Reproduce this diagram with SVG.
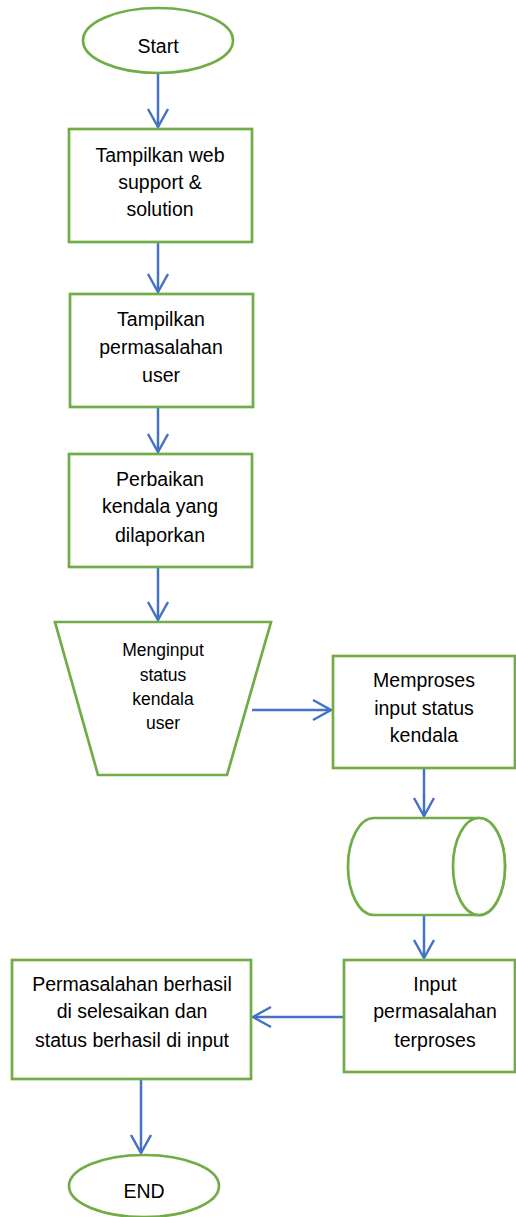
<svg xmlns="http://www.w3.org/2000/svg" width="516" height="1217" viewBox="0 0 516 1217">
<style>
.s{fill:#fff;stroke:#70AD47;stroke-width:2.7}
.t{font-family:"Liberation Sans",Arial,sans-serif;font-size:19.5px;fill:#000;text-anchor:middle}
.ts{font-family:"Liberation Sans",Arial,sans-serif;font-size:17.5px;fill:#000;text-anchor:middle}
.c{fill:none;stroke:#4472C4;stroke-width:2.5;marker-end:url(#ah)}
</style>
<defs>
<marker id="ah" markerUnits="userSpaceOnUse" markerWidth="24" markerHeight="24" viewBox="0 0 24 24" refX="21" refY="12" orient="auto">
<path d="M3,2 L21,12 L3,22" fill="none" stroke="#4472C4" stroke-width="2.5"/>
</marker>
</defs>
<rect width="516" height="1217" fill="#fff"/>
<g id="connectors">
<line class="c" x1="158" y1="73" x2="158" y2="127"/>
<line class="c" x1="158" y1="242" x2="158" y2="292"/>
<line class="c" x1="158" y1="407" x2="158" y2="452"/>
<line class="c" x1="158" y1="567" x2="158" y2="620"/>
<line class="c" x1="252" y1="710" x2="331" y2="710"/>
<line class="c" x1="424" y1="768" x2="424" y2="816"/>
<line class="c" x1="424" y1="915" x2="424" y2="958"/>
<line class="c" x1="344" y1="1017" x2="253" y2="1017"/>
<line class="c" x1="141" y1="1079" x2="141" y2="1153"/>
</g>
<g id="start">
<ellipse class="s" cx="158" cy="40.5" rx="75" ry="32.5"/>
<text class="t" x="158" y="53">Start</text>
</g>
<g id="n1">
<rect class="s" x="69" y="129" width="183" height="113"/>
<text class="t" x="160" y="162">Tampilkan web</text>
<text class="t" x="160" y="189">support &amp;</text>
<text class="t" x="160" y="216">solution</text>
</g>
<g id="n2">
<rect class="s" x="70" y="294" width="183" height="113"/>
<text class="t" x="161" y="326">Tampilkan</text>
<text class="t" x="161" y="354">permasalahan</text>
<text class="t" x="161" y="382">user</text>
</g>
<g id="n3">
<rect class="s" x="69" y="454" width="183" height="113"/>
<text class="t" x="160" y="486">Perbaikan</text>
<text class="t" x="160" y="513">kendala yang</text>
<text class="t" x="160" y="542">dilaporkan</text>
</g>
<g id="n4">
<path class="s" d="M55,622 L271,622 L227,775 L98,775 Z"/>
<text class="ts" x="163" y="656">Menginput</text>
<text class="ts" x="163" y="681">status</text>
<text class="ts" x="163" y="705">kendala</text>
<text class="ts" x="163" y="729">user</text>
</g>
<g id="n5">
<rect class="s" x="333" y="656" width="182" height="112"/>
<text class="t" x="424" y="687">Memproses</text>
<text class="t" x="424" y="715">input status</text>
<text class="t" x="424" y="742">kendala</text>
</g>
<g id="n6">
<path class="s" d="M374,818 L479,818 A26,48.5 0 0 1 479,915 L374,915 A26,48.5 0 0 1 374,818 Z"/>
<ellipse class="s" cx="479" cy="866.5" rx="26" ry="48.5"/>
</g>
<g id="n7">
<rect class="s" x="344" y="960" width="171" height="112"/>
<text class="t" x="435" y="991">Input</text>
<text class="t" x="435" y="1018">permasalahan</text>
<text class="t" x="435" y="1047">terproses</text>
</g>
<g id="n8">
<rect class="s" x="12" y="960" width="239" height="119"/>
<text class="t" x="132" y="991">Permasalahan berhasil</text>
<text class="t" x="132" y="1018">di selesaikan dan</text>
<text class="t" x="132" y="1047">status berhasil di input</text>
</g>
<g id="end">
<ellipse class="s" cx="144" cy="1186" rx="75" ry="31"/>
<text class="t" x="144" y="1198">END</text>
</g>
</svg>
